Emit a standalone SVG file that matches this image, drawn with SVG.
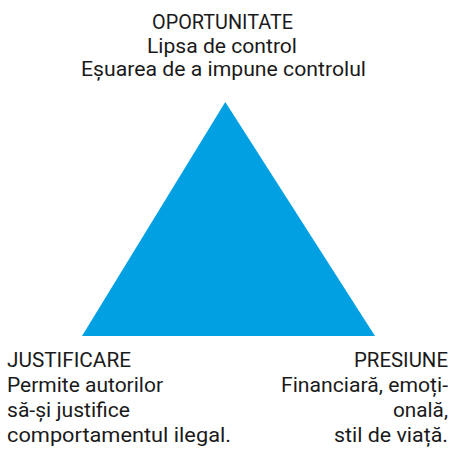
<svg xmlns="http://www.w3.org/2000/svg" width="454" height="451" viewBox="0 0 454 451">
<style>
text{font-family:Roboto,"Liberation Sans",sans-serif;font-size:21px;fill:#1a1a1a}
</style>
<rect width="454" height="451" fill="#fff"/>
<g id="triangle">
<polygon points="225.3,102 82,336 375,336" fill="#00A0E3"/>
</g>
<g id="connectors"/>
<g id="oportunitate">
<text x="152" y="28.5" textLength="141" lengthAdjust="spacingAndGlyphs">OPORTUNITATE</text>
<text x="147" y="52.5" textLength="150" lengthAdjust="spacingAndGlyphs">Lipsa de control</text>
<text x="81" y="76" textLength="285" lengthAdjust="spacingAndGlyphs">Eșuarea de a impune controlul</text>
</g>
<g id="justificare">
<text x="7" y="367" textLength="124" lengthAdjust="spacingAndGlyphs">JUSTIFICARE</text>
<text x="7" y="392" textLength="156" lengthAdjust="spacingAndGlyphs">Permite autorilor</text>
<text x="7" y="417" textLength="123" lengthAdjust="spacingAndGlyphs">să-și justifice</text>
<text x="7" y="442" textLength="224" lengthAdjust="spacingAndGlyphs">comportamentul ilegal.</text>
</g>
<g id="presiune">
<text x="354" y="367" textLength="94" lengthAdjust="spacingAndGlyphs">PRESIUNE</text>
<text x="281" y="392" textLength="167" lengthAdjust="spacingAndGlyphs">Financiară, emoți-</text>
<text x="393" y="417" textLength="55" lengthAdjust="spacingAndGlyphs">onală,</text>
<text x="334" y="442" textLength="114" lengthAdjust="spacingAndGlyphs">stil de viață.</text>
</g>
</svg>
